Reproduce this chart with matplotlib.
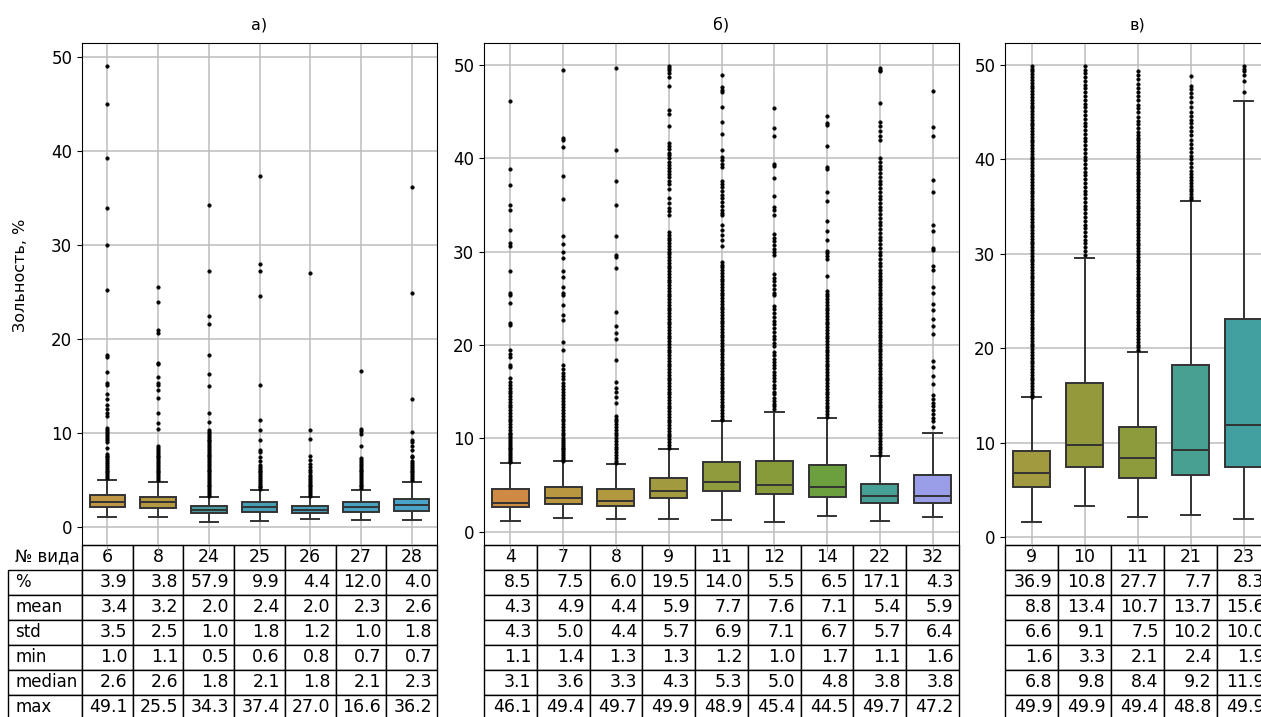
import numpy as np
import matplotlib.pyplot as plt

# ---- а) ----
sp_a = [6, 8, 24, 25, 26, 27, 28]
pct_a = [3.9, 3.8, 57.9, 9.9, 4.4, 12.0, 4.0]
mean_a = [3.4, 3.2, 2.0, 2.4, 2.0, 2.3, 2.6]
std_a = [3.5, 2.5, 1.0, 1.8, 1.2, 1.0, 1.8]
min_a = [1.0, 1.1, 0.5, 0.6, 0.8, 0.7, 0.7]
med_a = [2.6, 2.6, 1.8, 2.1, 1.8, 2.1, 2.3]
max_a = [49.1, 25.5, 34.3, 37.4, 27.0, 16.6, 36.2]
q1_a = [2.16, 2.06, 1.46, 1.63, 1.46, 1.63, 1.74]
q3_a = [3.38, 3.2, 2.2, 2.6, 2.2, 2.6, 2.98]
whi_a = [4.98, 4.8, 3.2, 3.9, 3.2, 3.9, 4.8]
fl_a = [
    [49.1, 45.0, 39.3, 34.0, 30.0, 25.2, 18.3, 18.1, 16.5, 15.3, 15.1, 14.2, 13.6, 13.0,
     12.5, 12.1, 11.8, 10.5, 10.3, 10.1, 9.9, 9.7, 9.5, 9.2, 9.0, 8.4, 7.8, 7.6, 7.4, 7.2,
     7.0, 6.8, 6.6, 6.4, 6.2, 6.0, 5.8, 5.6, 5.4, 5.2],
    [25.5, 24.0, 21.0, 20.6, 17.5, 17.3, 16.0, 15.3, 15.1, 14.6, 13.7, 12.1, 11.1, 10.4,
     8.6, 8.4, 8.2, 8.0, 7.8, 7.6, 7.4, 7.2, 7.0, 6.8, 6.6, 6.4, 6.2, 6.0, 5.8, 5.6, 5.4,
     5.2, 5.0],
    [34.3, 27.3, 22.5, 21.6, 18.3, 16.3, 15.0, 12.1, 11.2, 10.3, 10.1, 9.9, 9.7, 9.5, 9.3,
     9.1, 8.9, 8.7, 8.5, 8.3, 8.1, 7.9, 7.7, 7.5, 7.3, 7.1, 6.9, 6.7, 6.5, 6.3, 6.1, 5.9,
     5.7, 5.5, 5.3, 5.1, 4.9, 4.7, 4.5, 4.3, 4.1, 3.9, 3.7, 3.5, 3.3],
    [37.4, 28.0, 27.3, 24.6, 15.1, 11.4, 10.3, 9.3, 8.2, 8.0, 7.4, 7.0, 6.6, 6.4, 6.2, 6.0,
     5.8, 5.6, 5.4, 5.2, 5.0, 4.8, 4.6, 4.4, 4.2, 4.0],
    [27.0, 10.3, 9.4, 7.6, 7.1, 6.7, 6.4, 6.1, 5.8, 5.5, 5.3, 5.1, 4.9, 4.7, 4.5, 4.3, 4.1,
     3.9, 3.7, 3.5, 3.3],
    [16.6, 10.4, 10.2, 9.9, 8.6, 7.3, 7.1, 6.9, 6.7, 6.5, 6.3, 6.1, 5.9, 5.7, 5.5, 5.3, 5.1,
     4.9, 4.7, 4.5, 4.3, 4.1],
    [36.2, 24.9, 13.6, 10.1, 9.3, 9.0, 8.6, 8.2, 7.6, 7.4, 7.0, 6.8, 6.6, 6.4, 6.2, 6.0,
     5.8, 5.6, 5.4, 5.2, 5.0],
]
col_a = ['#bf9646', '#b3983f', '#489b9e', '#46a0b5', '#47a0b9', '#49a2c1', '#4aa4c9']

# ---- б) ----
sp_b = [4, 7, 8, 9, 11, 12, 14, 22, 32]
pct_b = [8.5, 7.5, 6.0, 19.5, 14.0, 5.5, 6.5, 17.1, 4.3]
mean_b = [4.3, 4.9, 4.4, 5.9, 7.7, 7.6, 7.1, 5.4, 5.9]
std_b = [4.3, 5.0, 4.4, 5.7, 6.9, 7.1, 6.7, 5.7, 6.4]
min_b = [1.1, 1.4, 1.3, 1.3, 1.2, 1.0, 1.7, 1.1, 1.6]
med_b = [3.1, 3.6, 3.3, 4.3, 5.3, 5.0, 4.8, 3.8, 3.8]
max_b = [46.1, 49.4, 49.7, 49.9, 48.9, 45.4, 44.5, 49.7, 47.2]
q1_b = [2.6, 2.99, 2.7, 3.56, 4.38, 3.98, 3.7, 3.1, 3.1]
q3_b = [4.56, 4.77, 4.56, 5.73, 7.4, 7.6, 7.1, 5.1, 6.1]
whi_b = [7.3, 7.55, 7.2, 8.8, 11.8, 12.8, 12.2, 8.1, 10.6]
fl_b = [
    [46.1, 38.8, 37.1, 35.0, 34.4, 32.3, 30.9, 30.6, 27.9, 25.6, 25.3, 24.5, 22.3, 22.1,
     19.5, 19.0, 18.7, 17.8, 17.6, 16.5, 16.0, 15.7, 15.4, 15.1, 14.8, 14.5, 14.2, 13.9,
     13.6, 13.3, 13.0, 12.7, 12.4, 12.1, 11.8, 11.5, 11.2, 10.9, 10.6, 10.4, 10.2, 10.0,
     9.8, 9.6, 9.4, 9.2, 9.0, 8.8, 8.6, 8.4, 8.2, 8.0, 7.8, 7.6, 7.4],
    [49.4, 42.2, 41.9, 41.2, 38.1, 35.6, 31.7, 30.8, 30.0, 29.3, 27.9, 27.3, 26.2, 25.6,
     25.3, 24.3, 23.2, 22.7, 20.3, 19.4, 17.8, 17.4, 17.0, 16.7, 16.3, 15.9, 15.6, 15.3,
     15.0, 14.6, 14.3, 14.0, 13.7, 13.3, 13.0, 12.7, 12.4, 12.1, 11.8, 11.5, 11.2, 10.9,
     10.6, 10.3, 10.0, 9.8, 9.6, 9.4, 9.2, 9.0, 8.8, 8.6, 8.4, 8.2, 8.0, 7.8, 7.6],
    [49.7, 40.9, 37.6, 35.0, 31.7, 29.6, 29.4, 28.2, 23.5, 22.0, 21.3, 20.6, 18.4, 16.0,
     15.4, 14.9, 14.4, 13.8, 12.4, 12.1, 11.8, 11.5, 11.2, 10.9, 10.6, 10.3, 10.0, 9.7,
     9.4, 9.1, 8.8, 8.5, 8.2, 7.9, 7.6, 7.3],
    [49.9, 49.7, 49.5, 49.1, 48.7, 47.7, 45.2, 44.7, 43.5, 41.6, 41.3, 41.0, 40.6, 40.3,
     40.0, 39.6, 39.3, 39.0, 38.6, 38.3, 38.0, 37.6, 37.2, 36.7, 35.7, 35.2, 34.7, 34.3,
     33.9, 32.1, 31.8, 31.5, 31.2, 30.9, 30.6, 30.3, 30.0, 29.7, 29.4, 29.1, 28.8, 28.5,
     28.2, 27.9, 27.6, 27.3, 27.0, 26.7, 26.4, 26.1, 25.8, 25.5, 25.2, 24.9, 24.6, 24.3,
     24.0, 23.7, 23.4, 23.1, 22.8, 22.5, 22.2, 21.9, 21.6, 21.3, 21.0, 20.7, 20.4, 20.1,
     19.8, 19.5, 19.2, 18.9, 18.6, 18.3, 18.0, 17.7, 17.4, 17.1, 16.8, 16.5, 16.2, 15.9,
     15.6, 15.3, 15.0, 14.7, 14.4, 14.1, 13.8, 13.5, 13.2, 12.9, 12.6, 12.3, 12.0, 11.7,
     11.4, 11.1, 10.8, 10.5, 10.2, 9.9, 9.6, 9.3, 9.0],
    [48.9, 47.6, 47.3, 47.1, 45.5, 43.9, 42.6, 40.9, 40.1, 39.8, 39.4, 39.1, 37.6, 37.2,
     36.9, 36.5, 36.1, 35.7, 35.3, 34.9, 34.5, 34.1, 33.9, 32.8, 32.3, 31.8, 31.2, 30.6,
     28.9, 28.6, 28.3, 28.0, 27.7, 27.4, 27.1, 26.8, 26.5, 26.2, 25.9, 25.6, 25.3, 25.0,
     24.7, 24.4, 24.1, 23.8, 23.5, 23.2, 22.9, 22.6, 22.3, 22.0, 21.7, 21.4, 21.1, 20.8,
     20.5, 20.2, 19.9, 19.6, 19.3, 19.0, 18.7, 18.4, 18.1, 17.8, 17.5, 17.2, 16.9, 16.6,
     16.3, 16.0, 15.7, 15.4, 15.1, 14.8, 14.5, 14.2, 13.9, 13.6, 13.3, 13.0, 12.7, 12.4,
     12.1, 11.9],
    [45.4, 43.2, 42.4, 39.4, 39.2, 37.9, 35.9, 34.8, 34.4, 33.9, 31.9, 31.5, 31.1, 30.7,
     30.3, 29.9, 29.6, 27.6, 27.2, 26.8, 26.4, 26.0, 25.6, 25.3, 24.2, 23.8, 23.4, 23.0,
     22.6, 22.2, 21.8, 21.4, 21.0, 20.6, 20.2, 19.9, 19.2, 18.9, 18.5, 18.2, 17.8, 17.5,
     17.1, 16.8, 16.4, 16.1, 15.7, 15.4, 15.0, 14.7, 14.3, 14.0, 13.7, 13.4, 13.1],
    [44.5, 43.8, 43.6, 41.3, 39.1, 38.8, 36.4, 35.4, 33.3, 32.2, 31.2, 30.1, 29.8, 29.5,
     29.2, 27.4, 25.8, 25.5, 25.2, 24.9, 24.6, 24.3, 24.0, 23.7, 23.4, 23.1, 22.8, 22.5,
     22.2, 21.9, 21.6, 21.3, 21.0, 20.7, 20.4, 20.1, 19.8, 19.5, 19.2, 18.9, 18.6, 18.3,
     18.0, 17.7, 17.4, 17.1, 16.8, 16.5, 16.2, 15.9, 15.6, 15.3, 15.0, 14.7, 14.4, 14.1,
     13.8, 13.5, 13.2, 12.9, 12.6, 12.3],
    [49.7, 49.5, 49.3, 45.9, 43.9, 43.4, 42.9, 42.4, 41.9, 40.0, 39.6, 39.2, 38.8, 38.4,
     38.0, 37.6, 37.2, 36.8, 36.4, 36.0, 35.6, 35.2, 34.8, 34.4, 34.0, 33.6, 33.2, 32.8,
     32.4, 32.0, 31.6, 31.2, 30.8, 30.4, 30.0, 29.6, 29.2, 28.8, 28.4, 28.0, 27.7, 27.4,
     27.1, 26.8, 26.5, 26.2, 25.9, 25.6, 25.3, 25.0, 24.7, 24.4, 24.1, 23.8, 23.5, 23.2,
     22.9, 22.6, 22.3, 22.0, 21.7, 21.4, 21.1, 20.8, 20.5, 20.2, 19.9, 19.6, 19.3, 19.0,
     18.7, 18.4, 18.1, 17.8, 17.5, 17.2, 16.9, 16.6, 16.3, 16.0, 15.7, 15.4, 15.1, 14.8,
     14.5, 14.2, 13.9, 13.6, 13.3, 13.0, 12.7, 12.4, 12.1, 11.8, 11.5, 11.2, 10.9, 10.6,
     10.3, 10.0, 9.7, 9.4, 9.1, 8.8, 8.5, 8.2],
    [47.2, 43.3, 42.4, 37.7, 36.4, 32.8, 32.2, 30.4, 30.2, 28.5, 28.0, 26.2, 25.6, 24.4,
     23.7, 22.8, 22.0, 21.2, 18.3, 17.6, 16.7, 15.8, 14.6, 14.2, 13.8, 13.4, 13.0, 12.6,
     12.2, 11.8, 11.2],
]
col_b = ['#cf8a43', '#b8973f', '#b2983e', '#a29a3e', '#8f9b3c', '#889b3b', '#6c9f3e',
         '#46a096', '#9a9ee8']

# ---- в) ----
sp_c = [9, 10, 11, 21, 23]
pct_c = [36.9, 10.8, 27.7, 7.7, 8.3]
mean_c = [8.8, 13.4, 10.7, 13.7, 15.6]
std_c = [6.6, 9.1, 7.5, 10.2, 10.0]
min_c = [1.6, 3.3, 2.1, 2.4, 1.9]
med_c = [6.8, 9.8, 8.4, 9.2, 11.9]
max_c = [49.9, 49.9, 49.4, 48.8, 49.9]
q1_c = [5.33, 7.45, 6.3, 6.57, 7.45]
q3_c = [9.15, 16.3, 11.7, 18.2, 23.1]
whi_c = [14.8, 29.6, 19.6, 35.6, 46.2]
fl_c = [
    [49.9, 49.6, 49.3, 49.0, 48.7, 48.4, 48.1, 47.8, 47.5, 47.2, 46.9, 46.6, 46.3, 46.0,
     45.7, 45.4, 45.1, 44.8, 44.5, 44.2, 43.9, 43.6, 43.3, 43.0, 42.7, 42.4, 42.1, 41.8,
     41.5, 41.2, 40.9, 40.6, 40.3, 40.0, 39.7, 39.4, 39.1, 38.8, 38.5, 38.2, 37.9, 37.6,
     37.3, 37.0, 36.7, 36.4, 36.1, 35.8, 35.5, 35.2, 34.9, 34.6, 34.3, 34.0, 33.7, 33.4,
     33.1, 32.8, 32.5, 32.2, 31.9, 31.6, 31.3, 31.0, 30.7, 30.4, 30.1, 29.8, 29.5, 29.2,
     28.9, 28.6, 28.3, 28.0, 27.7, 27.4, 27.1, 26.8, 26.5, 26.2, 25.9, 25.6, 25.3, 25.0,
     24.7, 24.4, 24.1, 23.8, 23.5, 23.2, 22.9, 22.6, 22.3, 22.0, 21.7, 21.4, 21.1, 20.8,
     20.5, 20.2, 19.9, 19.6, 19.3, 19.0, 18.7, 18.4, 18.1, 17.8, 17.5, 17.2, 16.9, 16.6,
     16.3, 16.0, 15.7, 15.4, 15.1, 14.9],
    [49.9, 49.5, 49.1, 48.7, 48.3, 47.9, 47.5, 47.1, 46.7, 46.3, 45.9, 45.5, 45.1, 44.7,
     44.3, 43.9, 43.5, 43.1, 42.7, 42.3, 41.9, 41.5, 41.1, 40.7, 40.3, 39.9, 39.5, 39.1,
     38.7, 38.3, 37.9, 37.5, 37.1, 36.7, 36.3, 35.9, 35.5, 35.1, 34.7, 34.3, 33.9, 33.5,
     33.1, 32.7, 32.3, 31.9, 31.5, 31.1, 30.7, 30.3, 29.9],
    [49.4, 48.9, 48.5, 48.0, 47.6, 47.1, 46.7, 46.3, 45.8, 45.4, 45.0, 44.5, 44.1, 43.7,
     43.3, 42.9, 42.6, 42.3, 42.0, 41.7, 41.4, 41.1, 40.8, 40.5, 40.2, 39.9, 39.6, 39.3,
     39.0, 38.7, 38.4, 38.1, 37.8, 37.5, 37.2, 36.9, 36.6, 36.3, 36.0, 35.7, 35.4, 35.1,
     34.8, 34.5, 34.2, 33.9, 33.6, 33.3, 33.0, 32.7, 32.4, 32.1, 31.8, 31.5, 31.2, 30.9,
     30.6, 30.3, 30.0, 29.7, 29.4, 29.1, 28.8, 28.5, 28.2, 27.9, 27.6, 27.3, 27.0, 26.7,
     26.4, 26.1, 25.8, 25.5, 25.2, 24.9, 24.6, 24.3, 24.0, 23.7, 23.4, 23.1, 22.8, 22.5,
     22.2, 21.9, 21.6, 21.3, 21.0, 20.7, 20.4, 20.1, 19.8],
    [48.8, 47.8, 47.4, 47.0, 46.6, 46.1, 45.5, 45.0, 44.6, 44.2, 43.8, 43.4, 43.0, 42.6,
     42.1, 41.6, 41.2, 40.8, 40.4, 40.0, 39.6, 39.2, 38.8, 38.5, 38.1, 37.8, 37.5, 37.2,
     36.9, 36.6, 36.3, 36.0, 35.8],
    [49.9, 49.6, 49.3, 48.9, 48.3, 47.1],
]
col_c = ['#a29a3e', '#949a3c', '#8e9b3c', '#47a092', '#43a0a0']

row_names = ['%', 'mean', 'std', 'min', 'median', 'max']
line_c = '#333333'
FS = 12
TFS = 12.5
TAB_H = 0.3486


def panel(ax, species, pct, mean, std, mn, med, mx, q1, q3, whi, fliers, colors,
          title, labels=False):
    stats = []
    for i in range(len(species)):
        stats.append(dict(med=med[i], q1=q1[i], q3=q3[i], whislo=mn[i], whishi=whi[i],
                          fliers=fliers[i]))
    art = ax.bxp(stats, positions=range(len(species)), widths=0.7, patch_artist=True,
                 boxprops=dict(edgecolor=line_c, linewidth=1.4),
                 medianprops=dict(color=line_c, linewidth=1.4),
                 whiskerprops=dict(color=line_c, linewidth=1.4),
                 capprops=dict(color=line_c, linewidth=1.4),
                 flierprops=dict(marker='o', markersize=2.6, markerfacecolor='k',
                                 markeredgecolor='k', markeredgewidth=0.3,
                                 linestyle='none'))
    for box, c in zip(art['boxes'], colors):
        box.set_facecolor(c)
    ax.set_xlim(-0.5, len(species) - 0.5)
    ax.set_axisbelow(True)
    ax.grid(True, color='#bdbdbd', linewidth=1.1)
    ax.set_xticks(range(len(species)))
    ax.tick_params(axis='x', labelbottom=False, length=5, color='#a8a8a8')
    ax.tick_params(axis='y', labelsize=FS)
    ax.set_title(title, fontsize=11.5, pad=10)

    rows = [[f'{v:.1f}' for v in row] for row in [pct, mean, std, mn, med, mx]]
    n = len(species)
    heads = [str(s) for s in species]
    if labels:
        # first column holds the row names, its header cell is left unboxed
        rlw = 0.2085
        cells = [[name] + r for name, r in zip(row_names, rows)]
        tbl = ax.table(cellText=cells, colLabels=['№ вида'] + heads,
                       colWidths=[rlw] + [1.0 / n] * n,
                       bbox=[-rlw, -TAB_H, 1 + rlw, TAB_H])
        tbl[(0, 0)].visible_edges = ''
    else:
        tbl = ax.table(cellText=rows, colLabels=heads,
                       colWidths=[1.0 / n] * n, bbox=[0, -TAB_H, 1, TAB_H])
    tbl.auto_set_font_size(False)
    tbl.set_fontsize(TFS)
    if labels:
        for r in range(0, 7):
            cell = tbl[(r, 0)]
            cell._loc = 'left'
            cell.get_text().set_horizontalalignment('left')
            cell.get_text().set_fontsize(12)
    return ax


fig = plt.figure(figsize=(12.61, 7.17), dpi=100)
ax_a = fig.add_axes([82 / 1261, 172 / 717, 355 / 1261, 502 / 717])
ax_b = fig.add_axes([484 / 1261, 172 / 717, 475 / 1261, 502 / 717])
ax_c = fig.add_axes([1005 / 1261, 172 / 717, 265 / 1261, 502 / 717])

panel(ax_a, sp_a, pct_a, mean_a, std_a, min_a, med_a, max_a, q1_a, q3_a, whi_a, fl_a,
      col_a, 'а)', labels=True)
panel(ax_b, sp_b, pct_b, mean_b, std_b, min_b, med_b, max_b, q1_b, q3_b, whi_b, fl_b,
      col_b, 'б)')
panel(ax_c, sp_c, pct_c, mean_c, std_c, min_c, med_c, max_c, q1_c, q3_c, whi_c, fl_c,
      col_c, 'в)')

ax_a.set_ylabel('Зольность, %', fontsize=11.5)
ax_a.yaxis.set_label_coords(-0.152, 0.538)

fig.savefig('out.png', dpi=100)
